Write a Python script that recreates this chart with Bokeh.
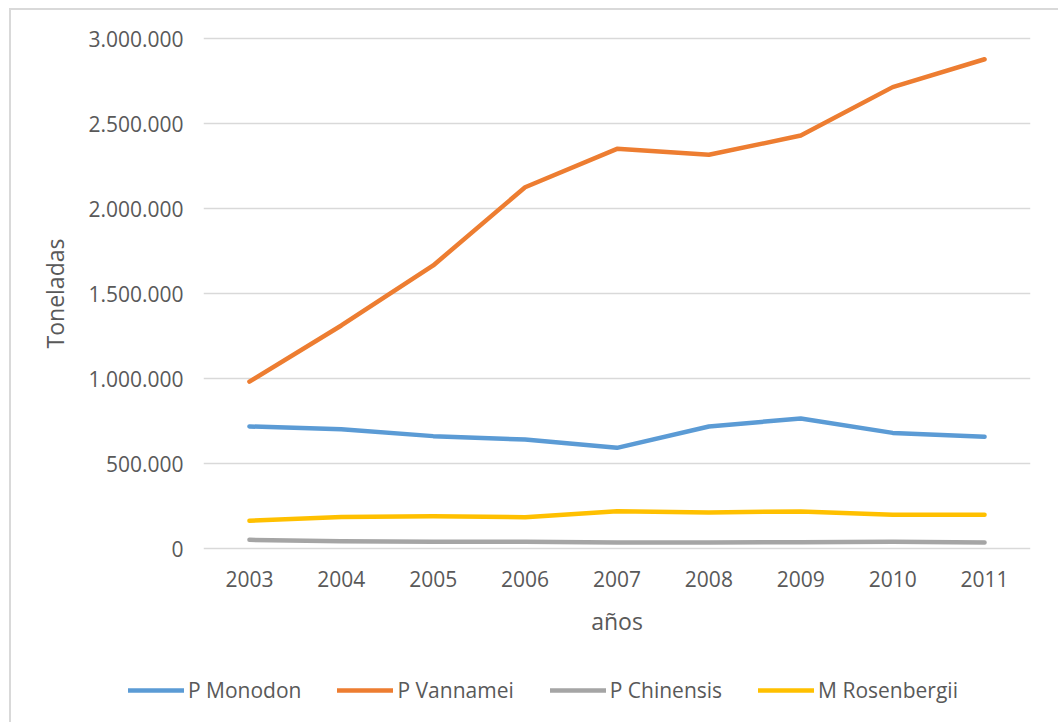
from bokeh.plotting import figure
from bokeh.layouts import column
from bokeh.models import (FactorRange, Range1d, FixedTicker, CustomJSTickFormatter,
                          Legend, LegendItem)
from bokeh.embed import file_html
from bokeh.resources import INLINE

years = ["2003", "2004", "2005", "2006", "2007", "2008", "2009", "2010", "2011"]
monodon = [718000, 702000, 661000, 641000, 592000, 718000, 765000, 680000, 657000]
vannamei = [982000, 1312000, 1665000, 2125000, 2351000, 2316000, 2429000, 2714000, 2878000]
chinensis = [51000, 43000, 39000, 39000, 35000, 35000, 37000, 39000, 35000]
rosenbergii = [163000, 186000, 190000, 184000, 219000, 212000, 218000, 198000, 198000]
y_ticks = [0, 500000, 1000000, 1500000, 2000000, 2500000, 3000000]

series = [
    ("P Monodon", monodon, "#5B9BD5"),
    ("P Vannamei", vannamei, "#ED7D31"),
    ("P Chinensis", chinensis, "#A5A5A5"),
    ("M Rosenbergii", rosenbergii, "#FFC000"),
]

FONT = "Open Sans"
TXT = "#595959"
LW = 4.5

# canvas starts at page (11, 10) because of the outer chart border
pad = 2 / 85 * 500000
p = figure(width=1047, height=640, output_backend="svg", toolbar_location=None,
           x_range=FactorRange(*years), y_range=Range1d(-pad, 3000000 + pad),
           min_border_left=192, min_border_right=28, min_border_top=26,
           min_border_bottom=100)
p.frame_align = False
p.outline_line_color = None
p.background_fill_color = "white"
p.border_fill_color = "white"

for name, vals, col in series:
    p.line(x=years, y=vals, line_color=col, line_width=LW,
           line_cap="round", line_join="round")

p.xgrid.grid_line_color = None
p.ygrid.grid_line_color = "#D9D9D9"
p.ygrid.grid_line_width = 1.3
p.yaxis.ticker = FixedTicker(ticks=y_ticks)
p.yaxis.formatter = CustomJSTickFormatter(
    code="return tick.toFixed(0).replace(/\\B(?=(\\d{3})+(?!\\d))/g, '.');")

for ax in (p.xaxis[0], p.yaxis[0]):
    ax.axis_line_color = None
    ax.major_tick_line_color = None
    ax.minor_tick_line_color = None
    ax.major_tick_in = 0
    ax.major_tick_out = 0
    ax.minor_tick_in = 0
    ax.minor_tick_out = 0
    ax.major_label_text_font = FONT
    ax.major_label_text_font_size = "21px"
    ax.major_label_text_color = TXT
    ax.axis_label_text_font = FONT
    ax.axis_label_text_font_size = "23px"
    ax.axis_label_text_color = TXT
    ax.axis_label_text_font_style = "normal"

p.yaxis.major_label_standoff = 20
p.yaxis.axis_label = "Toneladas"
p.yaxis.axis_label_standoff = 14
p.xaxis.major_label_standoff = 20
p.xaxis.axis_label = "años"
p.xaxis.axis_label_standoff = 15

# legend strip (its own small figure so the legend is not clipped)
lf = figure(width=1047, height=72, output_backend="svg", toolbar_location=None,
            x_range=FactorRange(*years), y_range=Range1d(1e8, 2e8),
            x_axis_location=None, y_axis_location=None,
            min_border_left=0, min_border_right=0, min_border_top=0,
            min_border_bottom=0)
lf.frame_align = False
lf.outline_line_color = None
lf.xgrid.grid_line_color = None
lf.ygrid.grid_line_color = None
items = []
for name, vals, col in series:
    r = lf.line(x=years, y=vals, line_color=col, line_width=LW,
                line_cap="round", line_join="round")
    items.append(LegendItem(label=name, renderers=[r]))

legend = Legend(items=items, orientation="horizontal", location=(117, 18),
                glyph_width=56, label_standoff=4, spacing=36, padding=0, margin=0,
                border_line_color=None, background_fill_alpha=0,
                label_text_font=FONT, label_text_font_size="21px",
                label_text_color=TXT)
lf.add_layout(legend, "center")

layout = column(p, lf, spacing=0)
layout.styles = {"margin-left": "9px", "margin-top": "8px",
                 "border-left": "2px solid #D9D9D9", "border-top": "2px solid #D9D9D9"}

open("out.html", "w").write(file_html(layout, INLINE))
